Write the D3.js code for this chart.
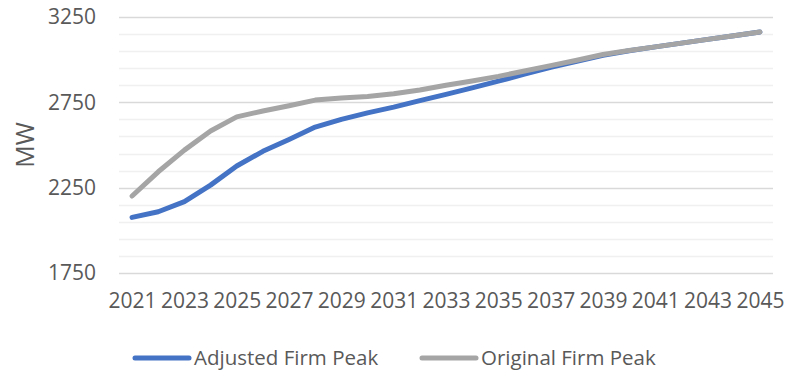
<!DOCTYPE html>
<html>
<head>
<meta charset="utf-8">
<script src="https://cdn.jsdelivr.net/npm/d3@7"></script>
<style>
  html, body { margin: 0; padding: 0; background: #fff; }
  svg { display: block; font-family: "Open Sans", "Liberation Sans", sans-serif; }
</style>
</head>
<body>
<svg id="chart" width="787" height="374"></svg>
<script>
// Firm peak forecast, MW by year
const years = [2021, 2022, 2023, 2024, 2025, 2026, 2027, 2028, 2029, 2030,
               2031, 2032, 2033, 2034, 2035, 2036, 2037, 2038, 2039, 2040,
               2041, 2042, 2043, 2044, 2045];
const adjustedFirmPeak = [2076, 2109, 2168, 2265, 2377, 2463, 2532, 2605, 2650, 2688,
                          2722, 2760, 2797, 2835, 2874, 2915, 2955, 2990, 3025, 3052,
                          3075, 3097, 3119, 3140, 3162];
const originalFirmPeak = [2201, 2343, 2470, 2582, 2665, 2699, 2730, 2763, 2775, 2784,
                          2800, 2822, 2850, 2875, 2902, 2934, 2965, 2997, 3030, 3054,
                          3075, 3097, 3119, 3140, 3162];
const yTicks = [1750, 2250, 2750, 3250];
const yMinorStep = 100;
const seriesNames = ["Adjusted Firm Peak", "Original Firm Peak"];
const seriesColors = ["#4472C4", "#A5A5A5"];

const svg = d3.select("#chart");
const plot = { left: 119, right: 773, top: 17, bottom: 273 };
const textColor = "#595959";
const labelFont = "21px";

const x = d3.scalePoint()
  .domain(years)
  .range([plot.left, plot.right])
  .padding(0.5);

const y = d3.scaleLinear()
  .domain([yTicks[0], yTicks[yTicks.length - 1]])
  .range([plot.bottom, plot.top]);

// minor gridlines every 100 MW
const minorValues = d3.range(yTicks[0], yTicks[yTicks.length - 1] + 1, yMinorStep)
  .filter(v => !yTicks.includes(v));
svg.append("g")
  .selectAll("line")
  .data(minorValues)
  .join("line")
  .attr("x1", plot.left).attr("x2", plot.right)
  .attr("y1", d => Math.round(y(d)) + 0.5)
  .attr("y2", d => Math.round(y(d)) + 0.5)
  .attr("stroke", "#F0F0F0")
  .attr("stroke-width", 1.5);

// major gridlines
svg.append("g")
  .selectAll("line")
  .data(yTicks)
  .join("line")
  .attr("x1", plot.left).attr("x2", plot.right)
  .attr("y1", d => Math.round(y(d)) + 0.5)
  .attr("y2", d => Math.round(y(d)) + 0.5)
  .attr("stroke", "#D9D9D9")
  .attr("stroke-width", 1.5);

// y axis labels
const yAxis = d3.axisLeft(y)
  .tickValues(yTicks)
  .tickFormat(d3.format("d"))
  .tickSize(0)
  .tickPadding(23);
svg.append("g")
  .attr("transform", `translate(${plot.left},0)`)
  .call(yAxis)
  .call(g => g.select(".domain").remove())
  .call(g => g.selectAll("text")
    .attr("fill", textColor)
    .style("font-size", labelFont)
    .style("font-family", "\"Open Sans\", sans-serif"));

// x axis labels, every other year
const xAxis = d3.axisBottom(x)
  .tickValues(years.filter((d, i) => i % 2 === 0))
  .tickFormat(d3.format("d"))
  .tickSize(0)
  .tickPadding(20);
svg.append("g")
  .attr("transform", `translate(0,${plot.bottom})`)
  .call(xAxis)
  .call(g => g.select(".domain").remove())
  .call(g => g.selectAll("text")
    .attr("fill", textColor)
    .style("font-size", labelFont)
    .style("font-family", "\"Open Sans\", sans-serif"));

// y axis title
svg.append("text")
  .attr("transform", "translate(34,145) rotate(-90)")
  .attr("text-anchor", "middle")
  .attr("fill", textColor)
  .style("font-size", "25px")
  .text("MW");

// series lines
const line = d3.line()
  .x((d, i) => x(years[i]))
  .y(d => y(d));

const series = [adjustedFirmPeak, originalFirmPeak];
svg.append("g")
  .selectAll("path")
  .data(series)
  .join("path")
  .attr("d", d => line(d))
  .attr("fill", "none")
  .attr("stroke", (d, i) => seriesColors[i])
  .attr("stroke-width", 5)
  .attr("stroke-linecap", "round")
  .attr("stroke-linejoin", "round");

// legend
const legendItems = [
  { x0: 135, name: seriesNames[0], color: seriesColors[0] },
  { x0: 422, name: seriesNames[1], color: seriesColors[1] }
];
const legend = svg.append("g").attr("transform", "translate(0,358)");
const item = legend.selectAll("g")
  .data(legendItems)
  .join("g")
  .attr("transform", d => `translate(${d.x0},0)`);
item.append("line")
  .attr("x1", 0).attr("x2", 54)
  .attr("y1", 0).attr("y2", 0)
  .attr("stroke", d => d.color)
  .attr("stroke-width", 5)
  .attr("stroke-linecap", "round");
item.append("text")
  .attr("x", 59)
  .attr("y", 0)
  .attr("dy", "0.35em")
  .attr("fill", textColor)
  .style("font-size", "20.5px")
  .text(d => d.name);
</script>
</body>
</html>
